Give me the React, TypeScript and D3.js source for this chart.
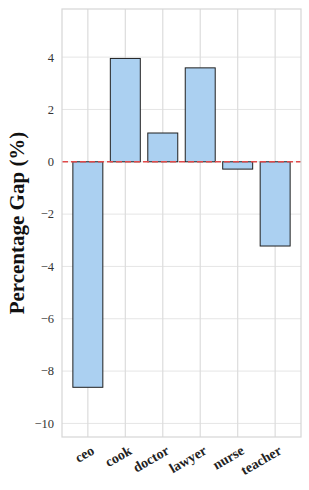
import React from 'react'
import * as d3 from 'd3'

const categories = ['ceo', 'cook', 'doctor', 'lawyer', 'nurse', 'teacher']
const gaps = [-8.62, 3.95, 1.1, 3.59, -0.28, -3.22]
const yTicks = [-10, -8, -6, -4, -2, 0, 2, 4]

function App() {
  const width = 309
  const height = 490
  const left = 62
  const right = 301
  const top = 9
  const bottom = 437
  const font = 'Liberation Serif, serif'

  const xScale = d3
    .scaleLinear()
    .domain([-0.69, categories.length - 1 + 0.69])
    .range([left, right])

  const yScale = d3
    .scaleLinear()
    .domain([-10.52, 5.84])
    .range([bottom, top])

  const barW = xScale(0.8) - xScale(0)

  return (
    <svg width={width} height={height} style={{ position: 'absolute', left: 0, top: 0 }}>
      <rect x={0} y={0} width={width} height={height} fill="#fff" />
      {/* grid */}
      {yTicks.map(t => (
        <line key={'gy' + t} x1={left} x2={right} y1={yScale(t)} y2={yScale(t)} stroke="#e5e5e5" strokeWidth={1} />
      ))}
      {categories.map((c, i) => (
        <line key={'gx' + c} x1={xScale(i)} x2={xScale(i)} y1={top} y2={bottom} stroke="#dcdcdc" strokeWidth={1.2} />
      ))}
      {/* bars */}
      {gaps.map((v, i) => (
        <rect
          key={i}
          x={xScale(i) - barW / 2}
          y={yScale(Math.max(0, v))}
          width={barW}
          height={Math.abs(yScale(v) - yScale(0))}
          fill="#abd0f1"
          stroke="#1f1f1f"
          strokeWidth={1}
        />
      ))}
      {/* zero line */}
      <line
        x1={left}
        x2={right}
        y1={yScale(0)}
        y2={yScale(0)}
        stroke="#e04a4a"
        strokeWidth={1.5}
        strokeDasharray="6,3"
      />
      {/* frame */}
      <rect x={left} y={top} width={right - left} height={bottom - top} fill="none" stroke="#d6d6d6" strokeWidth={1.2} />
      {/* y ticks */}
      {yTicks.map(t => (
        <text
          key={'ty' + t}
          x={left - 8}
          y={yScale(t)}
          dy="0.35em"
          textAnchor="end"
          fontFamily={font}
          fontSize={12.5}
          fill="#333"
        >
          {t < 0 ? '\u2212' + Math.abs(t) : t}
        </text>
      ))}
      {/* x labels */}
      {categories.map((c, i) => (
        <text
          key={'tx' + c}
          transform={`translate(${xScale(i) + 5},${bottom + 12}) rotate(-30)`}
          textAnchor="end"
          dy="0.35em"
          fontFamily={font}
          fontWeight="bold"
          fontSize={14}
          fill="#222"
        >
          {c}
        </text>
      ))}
      <text
        transform={`translate(24,${(top + bottom) / 2}) rotate(-90)`}
        textAnchor="middle"
        fontFamily={font}
        fontWeight="bold"
        fontSize={21}
        fill="#111"
      >
        Percentage Gap (%)
      </text>
    </svg>
  )
}

export default App
